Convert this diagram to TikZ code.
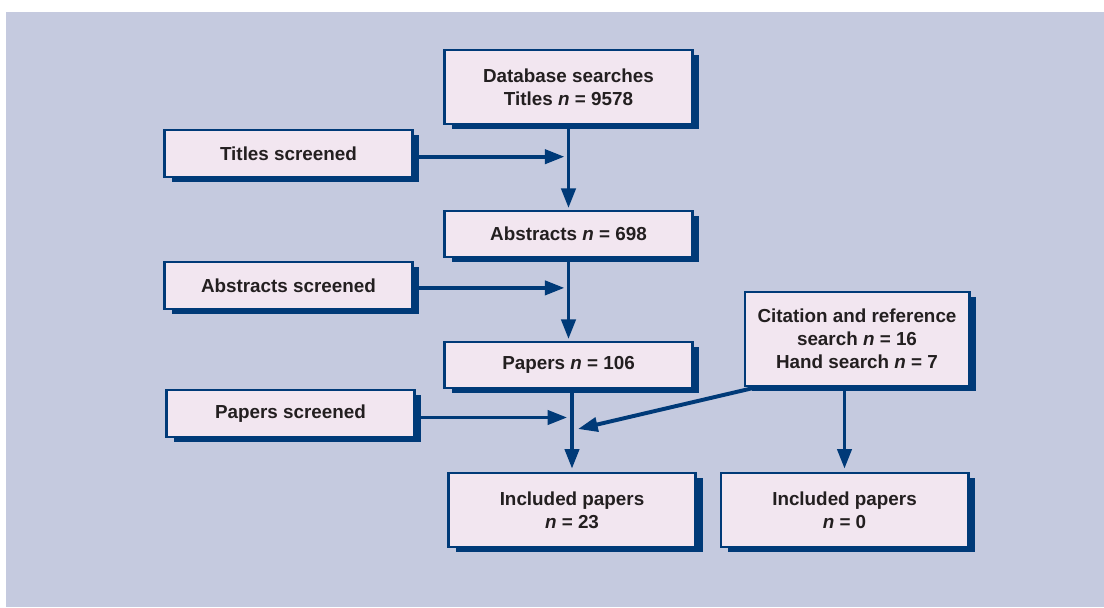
\documentclass[tikz,border=0pt]{standalone}
\usepackage{fontspec}
\setmainfont{Liberation Sans}
\usepackage{tikz}
\usetikzlibrary{arrows.meta,shadows,positioning}
\definecolor{bgblue}{HTML}{C5CADF}
\definecolor{boxfill}{HTML}{F2E6F0}
\definecolor{boxblue}{HTML}{003A78}
\definecolor{txtgray}{HTML}{231F20}

\begin{document}
\begin{tikzpicture}[x=0.025cm,y=-0.025cm,
  flowbox/.style={draw=boxblue,line width=2.1pt,fill=boxfill,text=txtgray,
    font=\fontsize{13.4}{16.4}\selectfont\bfseries,align=center,inner sep=0pt,
    minimum width=6.175cm,minimum height=1.175cm,
    drop shadow={shadow xshift=0.18cm,shadow yshift=-0.13cm,fill=boxblue,opacity=1}},
  flowarrow/.style={draw=boxblue,line width=2.8pt,-{Triangle[length=14pt,width=10pt]}}]
\useasboundingbox (0,0) rectangle (1104,607);
\fill[bgblue] (6,12) rectangle (1104,607);
\node[flowbox,minimum height=1.85cm] (db) at (568.5,87) {Database searches\\Titles \textit{n} = 9578};
\node[flowbox] (titscr) at (288.5,153.5) {Titles screened};
\node[flowbox,minimum height=1.15cm] (abs) at (568.5,234) {Abstracts \textit{n} = 698};
\node[flowbox] (absscr) at (288.5,285.5) {Abstracts screened};
\node[flowbox,minimum height=1.15cm] (pap) at (568.5,365) {Papers \textit{n} = 106};
\node[flowbox] (papscr) at (290.5,413.5) {Papers screened};
\node[flowbox,minimum width=5.6cm,minimum height=2.35cm] (cit) at (857,339) {Citation and reference\\search \textit{n} = 16\\Hand search \textit{n} = 7};
\node[flowbox,minimum height=1.85cm] (inc) at (572,510) {Included papers\\\textit{n} = 23};
\node[flowbox,minimum height=1.85cm] (inczero) at (844.5,510) {Included papers\\\textit{n} = 0};
\coordinate (tarr) at ([yshift=-0.08cm]titscr.east);
\coordinate (aarr) at ([yshift=-0.06cm]absscr.east);
\coordinate (parr) at ([yshift=-0.1cm]papscr.east);
\coordinate (citstart) at ([xshift=0.3cm]cit.south west);
\coordinate (merge) at (578,429);
\draw[flowarrow,shorten >=1pt] (db) -- (abs);
\draw[flowarrow,shorten >=1pt] (abs) -- (pap);
\draw[flowarrow,shorten >=2pt] (pap.south -| inc.north) -- (inc.north);
\draw[flowarrow,shorten >=2pt] (cit.south -| inczero.north) -- (inczero.north);
\draw[flowarrow,shorten >=0.1cm] (tarr) -- (tarr -| db.south);
\draw[flowarrow,shorten >=0.1cm] (aarr) -- (aarr -| abs.south);
\draw[flowarrow,shorten >=0.12cm] (parr) -- (parr -| inc.north);
\draw[flowarrow] (citstart) -- (merge);
\end{tikzpicture}
\end{document}
